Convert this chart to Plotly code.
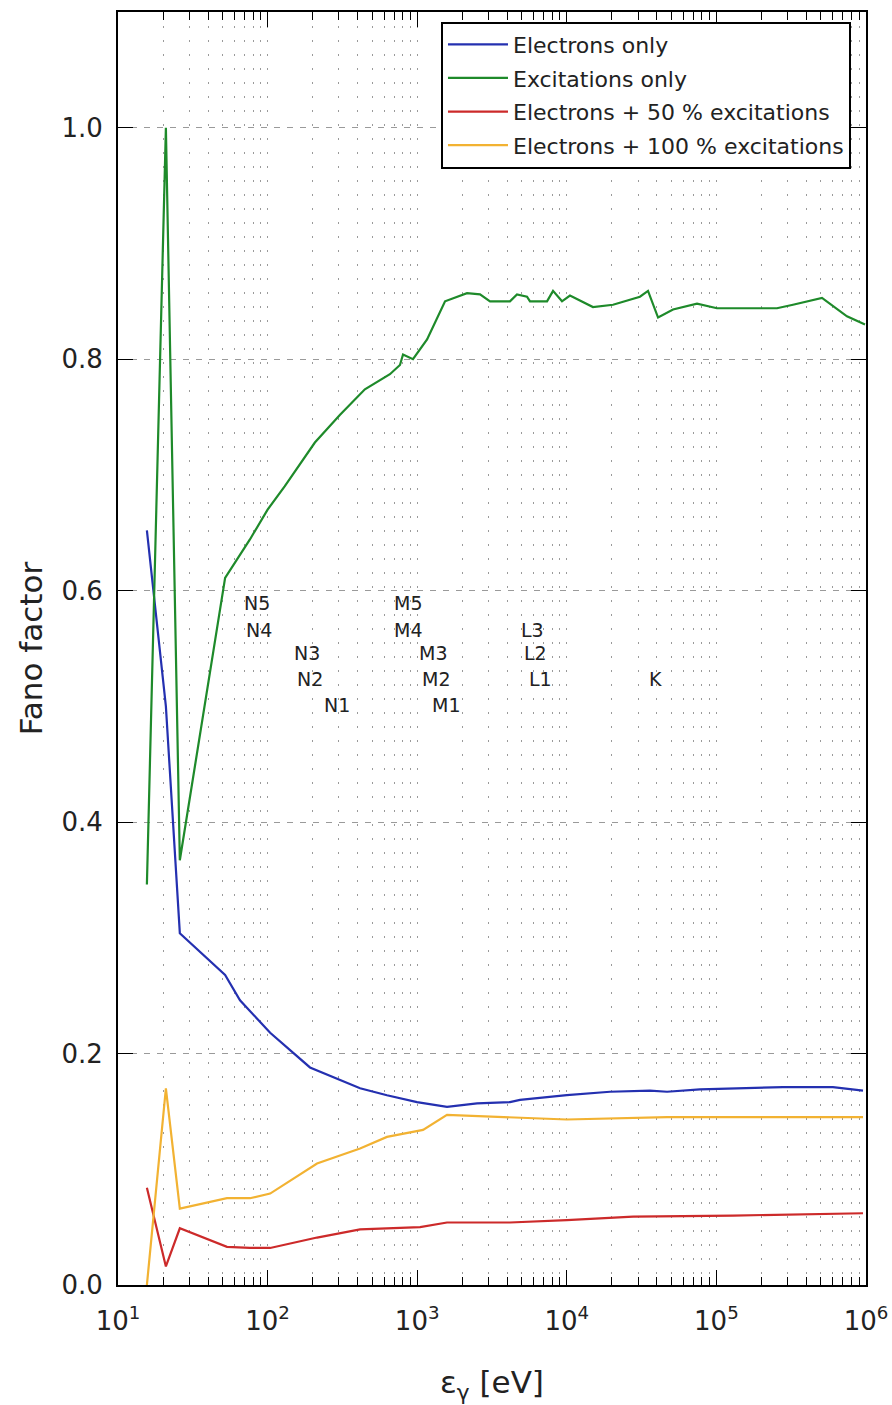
import numpy as np
import plotly.graph_objects as go

# ---- data ----
exc_x = [15.6, 20.9, 25.9, 52, 76, 100, 130, 207, 305, 447, 657, 767, 804, 937,
         1164, 1535, 2153, 2630, 3067, 4170, 4645, 5420, 5675, 7376, 8090, 9290,
         10500, 14960, 20370, 30830, 34900, 37150, 40740, 51300, 74200, 100900,
         254000, 325000, 508000, 746000, 985000]
exc_y = [0.346, 1.0, 0.367, 0.611, 0.644, 0.67, 0.69, 0.728, 0.752, 0.774, 0.787,
         0.795, 0.804, 0.80, 0.817, 0.850, 0.857, 0.856, 0.850, 0.850, 0.856, 0.854,
         0.850, 0.850, 0.859, 0.850, 0.855, 0.845, 0.847, 0.854, 0.859, 0.850, 0.836,
         0.843, 0.848, 0.844, 0.844, 0.847, 0.853, 0.837, 0.830]

ele_x = [15.6, 20.9, 25.9, 52, 65.4, 104, 192, 415, 628, 997, 1582, 2512, 4170,
         4865, 10000, 19450, 36000, 46800, 77600, 278600, 601000, 955000]
ele_y = [0.652, 0.50, 0.304, 0.268, 0.246, 0.218, 0.188, 0.170, 0.164, 0.158,
         0.154, 0.157, 0.158, 0.160, 0.164, 0.167, 0.168, 0.167, 0.169, 0.171,
         0.171, 0.168]

e50_x = [15.6, 20.9, 25.9, 53.5, 76.2, 104, 214, 415, 1045, 1582, 4170, 10000,
         27700, 129000, 955000]
e50_y = [0.084, 0.016, 0.049, 0.033, 0.032, 0.032, 0.041, 0.048, 0.050, 0.054,
         0.054, 0.056, 0.059, 0.060, 0.062]

e100_x = [15.6, 20.9, 25.9, 53.5, 76.2, 104, 214, 415, 628, 1094, 1582, 4170,
          10000, 46800, 955000]
e100_y = [0.0, 0.170, 0.066, 0.075, 0.075, 0.079, 0.105, 0.118, 0.128, 0.134,
          0.147, 0.145, 0.143, 0.145, 0.145]

series_names = ["Electrons only", "Excitations only",
                "Electrons + 50 % excitations", "Electrons + 100 % excitations"]
series_colors = ["#2430b0", "#1e8a2a", "#cc2a2a", "#f2b232"]

edge_labels = ["N5", "N4", "N3", "N2", "N1", "M5", "M4", "M3", "M2", "M1",
               "L3", "L2", "L1", "K"]
edge_energy = [67.5, 69.5, 146, 152, 231, 676, 676, 1000, 1042, 1220,
               4782, 5000, 5453, 34561]
edge_level = [0.589, 0.566, 0.546, 0.524, 0.501, 0.589, 0.566, 0.546, 0.524,
              0.501, 0.566, 0.546, 0.524, 0.524]

x_tick_vals = [10, 100, 1000, 10000, 100000, 1000000]
x_tick_text = ["10<sup>1</sup>", "10<sup>2</sup>", "10<sup>3</sup>",
               "10<sup>4</sup>", "10<sup>5</sup>", "10<sup>6</sup>"]
y_tick_vals = [0.0, 0.2, 0.4, 0.6, 0.8, 1.0]

FONT = "DejaVu Sans"

fig = go.Figure()
for name, xs, ys, col in zip(series_names, [ele_x, exc_x, e50_x, e100_x],
                             [ele_y, exc_y, e50_y, e100_y], series_colors):
    fig.add_trace(go.Scatter(x=xs, y=ys, mode="lines", name=name,
                             legendgroup=name,
                             line=dict(color=col, width=2.2)))

for lab, en, lv in zip(edge_labels, edge_energy, edge_level):
    fig.add_annotation(x=np.log10(en), y=lv, xref="x", yref="y", text=lab,
                       showarrow=False, xanchor="left", yanchor="middle",
                       font=dict(family=FONT, size=19, color="#222"))

fig.update_layout(
    width=892, height=1405,
    margin=dict(l=118, r=26, t=12, b=120, autoexpand=False),
    paper_bgcolor="white", plot_bgcolor="white",
    font=dict(family=FONT, color="black"),
    showlegend=True,
    legend=dict(x=0.4318, y=0.9925, xanchor="left", yanchor="top",
                bgcolor="white", bordercolor="black", borderwidth=2,
                font=dict(family=FONT, size=22, color="#222"),
                traceorder="grouped", tracegroupgap=2, itemwidth=60),
)

fig.update_xaxes(
    type="log", range=[1, 6], automargin=False,
    tickmode="array", tickvals=x_tick_vals, ticktext=x_tick_text,
    ticks="inside", ticklen=15, tickwidth=1.2, tickcolor="black",
    showline=True, linecolor="black", linewidth=2, mirror="allticks",
    showgrid=True, gridcolor="#9a9a9a", gridwidth=1, griddash="2px,12px",
    tickfont=dict(family=FONT, size=26, color="#222"),
    ticklabelstandoff=12,
    minor=dict(dtick="D1", ticks="inside", ticklen=8, tickcolor="black",
               tickwidth=1.2,
               showgrid=True, gridcolor="#9a9a9a", gridwidth=1,
               griddash="2px,12px"),
    title=dict(text="ε<sub>γ</sub> [eV]", font=dict(family=FONT, size=31, color="#222"),
               standoff=38),
    zeroline=False,
)
fig.update_yaxes(
    range=[0, 1.1], automargin=False,
    tickmode="array", tickvals=y_tick_vals, tickformat=".1f",
    ticks="inside", ticklen=15, tickwidth=1.2, tickcolor="black",
    showline=True, linecolor="black", linewidth=2, mirror="allticks",
    showgrid=True, gridcolor="#9a9a9a", gridwidth=1, griddash="6px,7px",
    tickfont=dict(family=FONT, size=26, color="#222"),
    ticklabelstandoff=8,
    title=dict(text="Fano factor", font=dict(family=FONT, size=31, color="#222"),
               standoff=10),
    zeroline=False,
)

fig.write_html("out.html")
